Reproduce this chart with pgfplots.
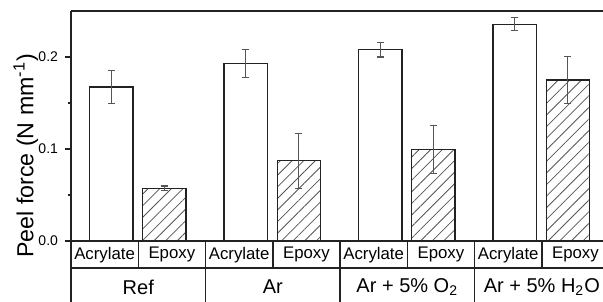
\documentclass[border=0pt]{standalone}
\usepackage{fontspec}
\setmainfont{Liberation Sans}
\usepackage{pgfplots}
\pgfplotsset{compat=1.18}
\usetikzlibrary{patterns.meta}
\definecolor{ln}{HTML}{222222}
\definecolor{eb}{HTML}{555555}
\begin{document}
\begin{tikzpicture}
\begin{axis}[
  scale only axis, width=266pt, height=115pt,
  xmin=0, xmax=3.955, ymin=0, ymax=0.25,
  axis x line*=box, axis y line*=left,
  axis line style={ln, line width=1pt},
  xtick=\empty,
  ytick={0,0.1,0.2}, minor ytick={0.05,0.15},
  tick align=outside, major tick length=3pt, minor tick length=1.6pt,
  tick style={ln, line width=0.7pt},
  /pgf/number format/assume math mode=true,
  yticklabel style={font=\fontsize{7}{8}\selectfont, /pgf/number format/fixed, /pgf/number format/precision=1, /pgf/number format/fixed zerofill},
  ylabel={Peel force (N mm\textsuperscript{-1})},
  ylabel style={font=\fontsize{11.6}{14}\selectfont, at={(axis description cs:-0.085,0.37)}, anchor=center},
  clip=false,
]
\coordinate (A) at (rel axis cs:0,0);
\coordinate (B) at (rel axis cs:1,1);
\addplot[ybar, bar width=0.322, bar shift=0pt, fill=white, draw=ln, line width=0.65pt,
  error bars/.cd, y dir=both, y explicit,
  error bar style={eb, line width=0.55pt},
  error mark options={eb, rotate=90, mark size=1.75pt, line width=0.55pt}]
coordinates {
  (0.299,0.1674) +- (0,0.018)
  (1.299,0.193) +- (0,0.0155)
  (2.299,0.208) +- (0,0.008)
  (3.299,0.2355) +- (0,0.007)
};
\addplot[ybar, bar width=0.322, bar shift=0pt, draw=ln, line width=0.65pt,
  pattern={Lines[angle=45,distance=4.1pt,line width=0.4pt]}, pattern color=eb,
  error bars/.cd, y dir=both, y explicit,
  error bar style={eb, line width=0.55pt},
  error mark options={eb, rotate=90, mark size=1.75pt, line width=0.55pt}]
coordinates {
  (0.694,0.0573) +- (0,0.0025)
  (1.694,0.0873) +- (0,0.030)
  (2.694,0.0992) +- (0,0.0263)
  (3.694,0.175) +- (0,0.026)
};
% category table below the axis
\draw[ln, line width=0.75pt] ([yshift=-13.5pt]axis cs:0,0) -- ([yshift=-13.5pt]axis cs:3.955,0);
\draw[ln, line width=0.75pt] (axis cs:0,0) -- ([yshift=-31pt]axis cs:0,0);
\draw[ln, line width=0.75pt] (axis cs:1,0) -- ([yshift=-31pt]axis cs:1,0);
\draw[ln, line width=0.75pt] (axis cs:2,0) -- ([yshift=-31pt]axis cs:2,0);
\draw[ln, line width=0.75pt] (axis cs:3,0) -- ([yshift=-31pt]axis cs:3,0);
\draw[ln, line width=0.75pt] (axis cs:0.5,0) -- ([yshift=-13.5pt]axis cs:0.5,0);
\draw[ln, line width=0.75pt] (axis cs:1.5,0) -- ([yshift=-13.5pt]axis cs:1.5,0);
\draw[ln, line width=0.75pt] (axis cs:2.5,0) -- ([yshift=-13.5pt]axis cs:2.5,0);
\draw[ln, line width=0.75pt] (axis cs:3.5,0) -- ([yshift=-13.5pt]axis cs:3.5,0);
\tikzset{c1/.style={font=\fontsize{8.4}{10}\selectfont, anchor=center, inner sep=0pt},
         c2/.style={font=\fontsize{10}{12}\selectfont, anchor=center, inner sep=0pt}}
\node[c1] at ([yshift=-6.9pt]axis cs:0.25,0) {Acrylate};
\node[c1] at ([yshift=-6.9pt]axis cs:0.75,0) {Epoxy};
\node[c1] at ([yshift=-6.9pt]axis cs:1.25,0) {Acrylate};
\node[c1] at ([yshift=-6.9pt]axis cs:1.75,0) {Epoxy};
\node[c1] at ([yshift=-6.9pt]axis cs:2.25,0) {Acrylate};
\node[c1] at ([yshift=-6.9pt]axis cs:2.75,0) {Epoxy};
\node[c1] at ([yshift=-6.9pt]axis cs:3.25,0) {Acrylate};
\node[c1] at ([yshift=-6.9pt]axis cs:3.75,0) {Epoxy};
\node[c2] at ([yshift=-23pt]axis cs:0.5,0) {Ref};
\node[c2] at ([yshift=-23pt]axis cs:1.5,0) {Ar};
\node[c2] at ([yshift=-23pt]axis cs:2.5,0) {Ar + 5\% O\textsubscript{2}};
\node[c2] at ([yshift=-23pt]axis cs:3.5,0) {Ar + 5\% H\textsubscript{2}O};
\end{axis}
\pgfresetboundingbox
\useasboundingbox ([shift={(-35.5pt,-30.5pt)}]A) rectangle ([shift={(0pt,5.5pt)}]B);
\end{tikzpicture}
\end{document}
